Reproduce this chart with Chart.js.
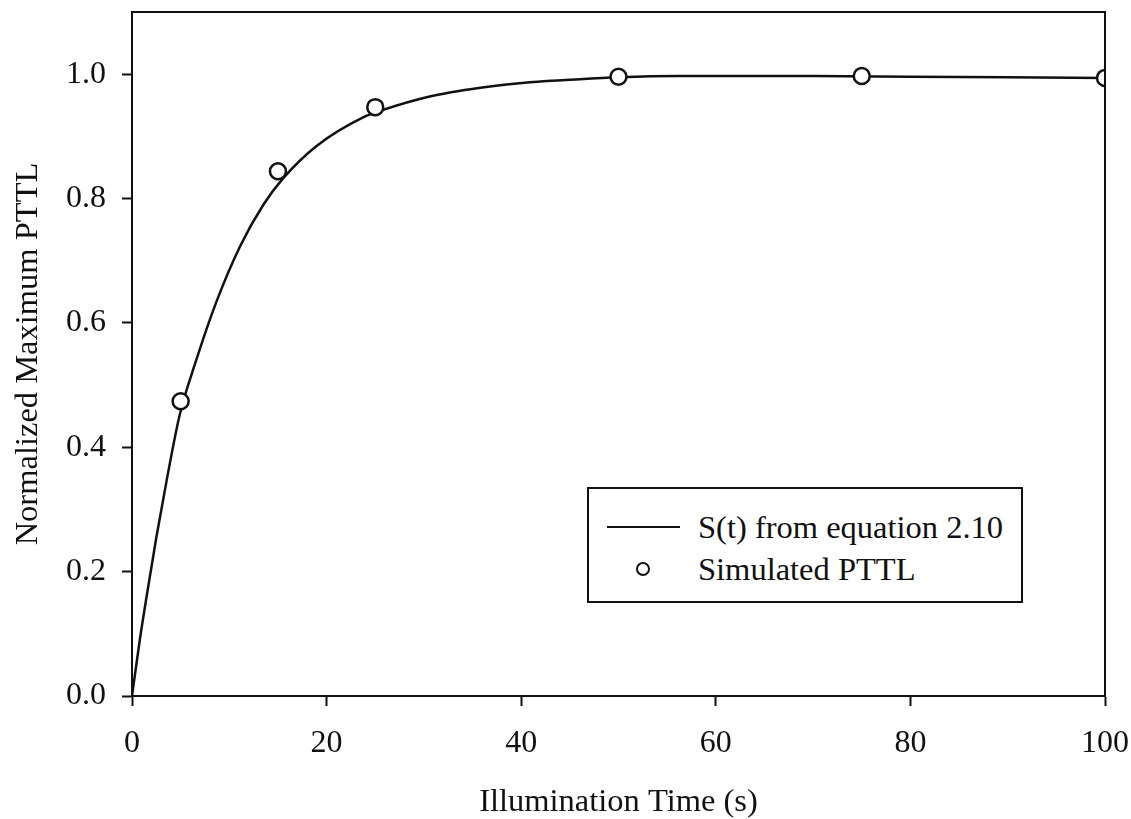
<!DOCTYPE html>
<html>
<head>
<meta charset="utf-8">
<title>Normalized Maximum PTTL</title>
<script src="https://cdn.jsdelivr.net/npm/chart.js@4"></script>
<style>
  body { margin: 0; background: #fff; }
  #wrap { position: relative; width: 1131px; height: 819px; }
  #legend {
    position: absolute; left: 587px; top: 487px; width: 432px; height: 112px;
    border: 2px solid #111; background: #fff;
    font-family: "Liberation Serif", serif; font-size: 32.5px; color: #111;
  }
  #legend .row { position: absolute; left: 0; height: 36px; line-height: 36px; }
  #legend .line { position: absolute; left: 18px; top: 17px; width: 73px; border-top: 2px solid #111; }
  #legend .dot { position: absolute; left: 47px; top: 11px; width: 10px; height: 10px; border: 2px solid #111; border-radius: 50%; }
  #legend .txt { position: absolute; left: 109px; top: 0; white-space: nowrap; }
</style>
</head>
<body>
<div id="wrap">
  <canvas id="mychart" width="1131" height="819"></canvas>
  <div id="legend"></div>
</div>
<script>
// S(t) curve
const curveTime = [0, 0.8, 1.5, 2.5, 3.6, 4.9, 6.6, 8.7, 11.1, 13.5, 15.5, 19, 23.8, 25.5, 30.6, 35.8, 40.9, 46, 50, 56, 62, 70, 80, 90, 100];
const curveValue = [0, 0.09, 0.16, 0.255, 0.35, 0.452, 0.54, 0.635, 0.723, 0.79, 0.832, 0.885, 0.931, 0.941, 0.964, 0.978, 0.987, 0.992, 0.995, 0.997, 0.997, 0.997, 0.996, 0.995, 0.994];

// simulated PTTL points
const simTime = [5, 15, 25, 50, 75, 100];
const simValue = [0.474, 0.844, 0.947, 0.996, 0.997, 0.994];

const xTicks = [0, 20, 40, 60, 80, 100];
const yTicks = [0.0, 0.2, 0.4, 0.6, 0.8, 1.0];

const curveLabel = 'S(t) from equation 2.10';
const simLabel = 'Simulated PTTL';

const ink = '#111';
const serif = 'Liberation Serif';

const toPoints = (xs, ys) => xs.map((x, i) => ({ x: x, y: ys[i] }));

// fixed axis sizes, no extra room for the outer tick labels
const fixSize = (prop, size) => (s) => {
    s[prop] = size;
    s.paddingTop = 0;
    s.paddingBottom = 0;
    s.paddingLeft = 0;
    s.paddingRight = 0;
};

// closes the box on the top and right sides
const frame = {
    id: 'frame',
    afterDatasetsDraw(chart) {
        const a = chart.chartArea;
        const ctx = chart.ctx;
        ctx.save();
        ctx.strokeStyle = ink;
        ctx.lineWidth = 2;
        ctx.beginPath();
        ctx.moveTo(a.left, a.top);
        ctx.lineTo(a.right, a.top);
        ctx.lineTo(a.right, a.bottom);
        ctx.stroke();
        ctx.restore();
    }
};

const mychart = document.getElementById('mychart');

var chart = new Chart(mychart, {
    type: 'scatter',
    data: {
        datasets: [{
            label: simLabel,
            data: toPoints(simTime, simValue),
            pointStyle: 'circle',
            pointRadius: 8,
            pointBorderWidth: 2.5,
            pointBackgroundColor: '#fff',
            pointBorderColor: ink,
            order: 1,
        }, {
            type: 'line',
            label: curveLabel,
            data: toPoints(curveTime, curveValue),
            borderColor: ink,
            borderWidth: 2.5,
            pointRadius: 0,
            fill: false,
            cubicInterpolationMode: 'monotone',
            order: 2,
        }],
    },
    options: {
        responsive: false,
        animation: false,
        devicePixelRatio: 1,
        layout: { padding: { top: 12, right: 26, left: 0, bottom: 0 } },
        plugins: {
            legend: { display: false },
            tooltip: { enabled: false },
        },
        scales: {
            x: {
                type: 'linear',
                min: 0,
                max: 100,
                afterFit: fixSize('height', 123),
                afterBuildTicks: (s) => { s.ticks = xTicks.map(v => ({ value: v })); },
                border: { display: true, color: ink, width: 2 },
                grid: { drawOnChartArea: false, drawTicks: true, tickLength: 10, tickColor: ink, tickWidth: 2 },
                ticks: { color: ink, padding: 18, maxRotation: 0, font: { family: serif, size: 32 } },
                title: {
                    display: true,
                    text: 'Illumination Time (s)',
                    color: ink,
                    padding: { top: 0, bottom: -3 },
                    font: { family: serif, size: 32.5 },
                },
            },
            y: {
                type: 'linear',
                min: 0,
                max: 1.1,
                afterFit: fixSize('width', 132),
                afterBuildTicks: (s) => { s.ticks = yTicks.map(v => ({ value: v })); },
                border: { display: true, color: ink, width: 2 },
                grid: { drawOnChartArea: false, drawTicks: true, tickLength: 10, tickColor: ink, tickWidth: 2 },
                ticks: {
                    color: ink,
                    padding: 16,
                    font: { family: serif, size: 32 },
                    callback: (v) => Number(v).toFixed(1),
                },
                title: {
                    display: true,
                    text: 'Normalized Maximum PTTL',
                    color: ink,
                    padding: { top: 9, bottom: 0 },
                    font: { family: serif, size: 32.5 },
                },
            },
        },
    },
    plugins: [frame],
});

// legend box inside the plot
const legend = document.getElementById('legend');
legend.innerHTML =
    '<div class="row" style="top:20px;width:100%"><span class="line"></span><span class="txt">' + curveLabel + '</span></div>' +
    '<div class="row" style="top:62px;width:100%"><span class="dot"></span><span class="txt">' + simLabel + '</span></div>';
</script>
</body>
</html>
